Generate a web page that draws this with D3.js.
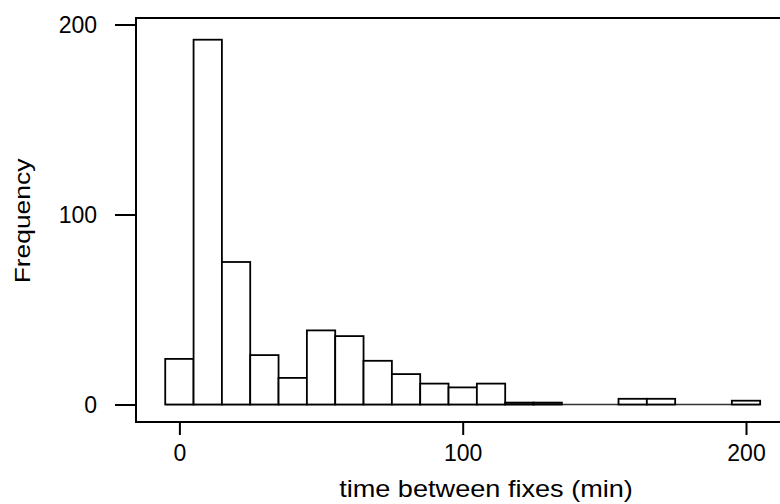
<!DOCTYPE html>
<html>
<head>
<meta charset="utf-8">
<script src="https://cdn.jsdelivr.net/npm/d3@7"></script>
<style>
  body { margin: 0; background: #fff; }
  text { font-family: "Liberation Sans", Arial, sans-serif; fill: #000; }
</style>
</head>
<body>
<div id="chart"></div>
<script>
// histogram of time between fixes, bins 10 min wide
var binStarts = [-5, 5, 15, 25, 35, 45, 55, 65, 75, 85, 95, 105, 115, 125, 135, 145, 155, 165, 175, 185, 195];
var counts    = [24, 192, 75, 26, 14, 39, 36, 23, 16, 11, 9, 11, 1, 1, 0, 0, 3, 3, 0, 0, 2];
var binWidth = 10;
var xTicks = [0, 100, 200];
var yTicks = [0, 100, 200];

var svgWidth = 780, svgHeight = 504;

var svg = d3.select("#chart")
    .append("svg")
    .attr("width", svgWidth)
    .attr("height", svgHeight);

// scales
var xScale = d3.scaleLinear().domain([0, 200]).range([179.4, 746]);
var yScale = d3.scaleLinear().domain([0, 200]).range([404.5, 24.5]);

// frame: left, top and bottom lines
var frame = { left: 136, top: 18, bottom: 422, right: 780 };
svg.append("path")
    .attr("d", `M${frame.right},${frame.top}H${frame.left}V${frame.bottom}H${frame.right}`)
    .attr("fill", "none")
    .attr("stroke", "#000")
    .attr("stroke-width", 2);

// y axis
var yAxis = svg.append("g")
    .attr("transform", `translate(${frame.left},0)`)
    .call(d3.axisLeft(yScale).tickValues(yTicks).tickSize(21).tickPadding(18).tickFormat(d3.format("d")));
yAxis.select(".domain").remove();
yAxis.selectAll("line").attr("stroke", "#000").attr("stroke-width", 2);
yAxis.selectAll("text")
    .attr("font-size", "23px")
    .attr("font-family", "Liberation Sans, Arial, sans-serif")
    .attr("dy", "0.36em");

// x axis
var xAxis = svg.append("g")
    .attr("transform", `translate(0,${frame.bottom})`)
    .call(d3.axisBottom(xScale).tickValues(xTicks).tickSize(13).tickPadding(10).tickFormat(d3.format("d")));
xAxis.select(".domain").remove();
xAxis.selectAll("line").attr("stroke", "#000").attr("stroke-width", 2);
xAxis.selectAll("text")
    .attr("font-size", "23px")
    .attr("font-family", "Liberation Sans, Arial, sans-serif");

// baseline under bars
svg.append("line")
    .attr("x1", xScale(binStarts[0]))
    .attr("x2", xScale(binStarts[binStarts.length - 1] + binWidth))
    .attr("y1", yScale(0))
    .attr("y2", yScale(0))
    .attr("stroke", "#333")
    .attr("stroke-width", 1.5);

// bars
svg.selectAll("rect.bar")
    .data(counts)
    .enter()
    .append("rect")
    .attr("class", "bar")
    .attr("x", (d, i) => xScale(binStarts[i]))
    .attr("width", (d, i) => xScale(binStarts[i] + binWidth) - xScale(binStarts[i]))
    .attr("y", d => yScale(d))
    .attr("height", d => yScale(0) - yScale(d))
    .attr("fill", "#fff")
    .attr("stroke", "#000")
    .attr("stroke-width", 1.8);

// axis titles
svg.append("g")
    .attr("transform", "translate(486,497) scale(1.13,1)")
    .append("text")
    .attr("text-anchor", "middle")
    .attr("font-size", "24px")
    .text("time between fixes (min)");

svg.append("g")
    .attr("transform", "translate(30,221) rotate(-90) scale(1.2,1)")
    .append("text")
    .attr("text-anchor", "middle")
    .attr("font-size", "22px")
    .text("Frequency");
</script>
</body>
</html>
